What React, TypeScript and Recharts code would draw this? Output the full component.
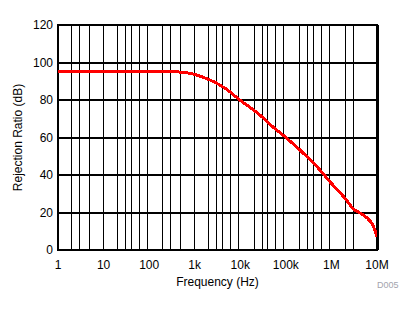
import { LineChart, Line, XAxis, YAxis, CartesianGrid, ReferenceArea, ReferenceLine, Label } from "recharts";

// frequency (Hz) and rejection ratio (dB)
const freqHz = [1, 10, 100, 300, 500, 1000, 2000, 3000, 5000, 10000, 20000, 30000, 50000, 100000, 200000, 500000, 1000000, 2000000, 3000000, 5000000, 7000000, 8000000, 9000000, 10000000];
const rejectionDb = [95, 95, 95, 95, 94.9, 93.6, 91, 89, 85.7, 79.8, 74.5, 71, 66, 60, 53.5, 44, 35.5, 27.5, 22, 18.7, 15.5, 13.5, 10.5, 7];

const decades = [1, 10, 100, 1000, 10000, 100000, 1000000, 10000000];
const decadeLabels = ["1", "10", "100", "1k", "10k", "100k", "1M", "10M"];
const yTicks = [0, 20, 40, 60, 80, 100, 120];
const minorSteps = [1, 2, 3, 4, 5, 6, 7, 8, 9];

const data = freqHz.map((f, i) => ({ f, db: rejectionDb[i] }));
const gridX = decades.slice(0, -1).flatMap((d) => minorSteps.map((m) => d * m)).concat([10000000]);

const font = "'Liberation Sans', Arial, sans-serif";

export default function App() {
    return (
        <div style={{ position: "absolute", left: 0, top: 0, width: 415, height: 312, background: "#fff" }}>
            <LineChart width={415} height={312} data={data}
                       margin={{ top: 25, right: 38, left: 0, bottom: 26 }}
                       style={{ shapeRendering: "crispEdges", fontFamily: font }}>
                <CartesianGrid stroke="#000" strokeWidth={1} verticalValues={gridX} horizontal={false} />
                <XAxis dataKey="f" type="number" scale="log" domain={[1, 10000000]} ticks={decades}
                       allowDataOverflow height={36} tickLine={false} axisLine={false} tickSize={6} tickMargin={4}
                       tickFormatter={(v: number) => decadeLabels[decades.indexOf(v)] ?? ""}
                       tick={{ fill: "#000", fontSize: 12, fontFamily: font }}>
                    <Label value="Frequency (Hz)" position="insideBottom" offset={0}
                           style={{ fill: "#000", fontSize: 12, fontFamily: font }} />
                </XAxis>
                <YAxis type="number" domain={[0, 120]} ticks={yTicks} width={58} tickLine={false} axisLine={false}
                       tickSize={3} tickMargin={2} tick={{ fill: "#000", fontSize: 12, fontFamily: font }}>
                    <Label value="Rejection Ratio (dB)" angle={-90} position="center" dx={-11}
                           style={{ fill: "#000", fontSize: 12, fontFamily: font }} />
                </YAxis>
                {yTicks.map((t) => (
                    <ReferenceLine key={t} y={t} stroke="#000" strokeWidth={2} ifOverflow="visible" />
                ))}
                <ReferenceArea x1={1} x2={10000000} y1={0} y2={120} fill="none" stroke="#000" strokeWidth={2} ifOverflow="visible" />
                <ReferenceLine x={10000000} stroke="#000" strokeWidth={3} ifOverflow="visible" />
                <Line type="monotone" dataKey="db" stroke="#ff0000" strokeWidth={3} dot={false} isAnimationActive={false} />
            </LineChart>
            <div style={{ position: "absolute", left: 377, top: 281, fontSize: 9, lineHeight: "9px", color: "#a3a3ad", fontFamily: font }}>
                D005
            </div>
        </div>
    );
}
